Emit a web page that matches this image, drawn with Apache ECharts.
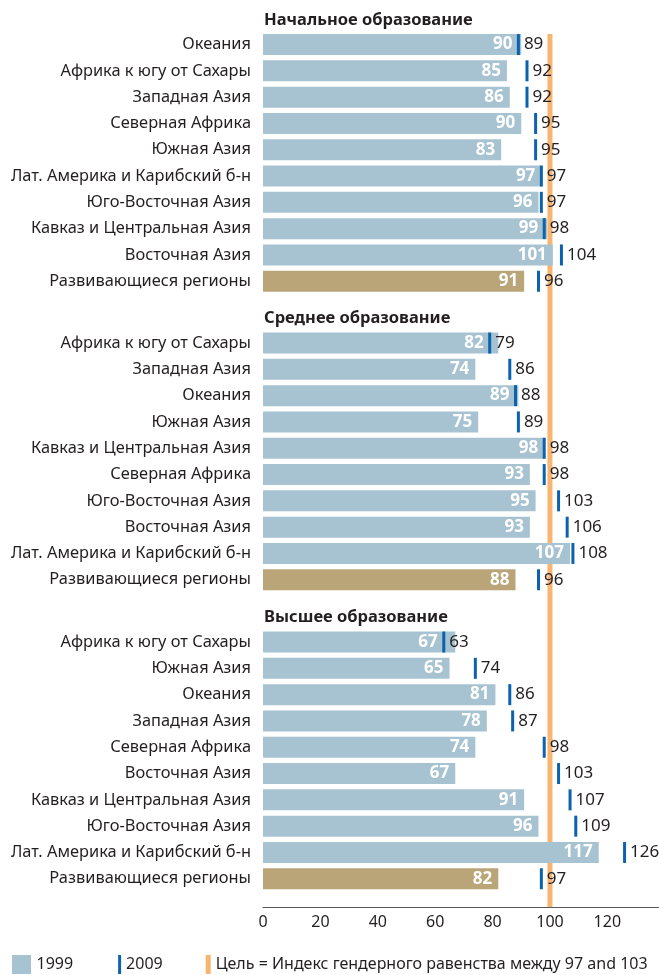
<!DOCTYPE html>
<html>
<head>
<meta charset="utf-8">
<script src="https://cdn.jsdelivr.net/npm/echarts@6/dist/echarts.min.js"></script>
<style>
    html, body { margin: 0; padding: 0; background: #fff; }
    #main { width: 659px; height: 975px; }
</style>
</head>
<body>
<div id="main"></div>
<script>
// данные: индекс гендерного равенства, 1999 и 2009
var headers = ['Начальное образование', 'Среднее образование', 'Высшее образование'];

var primaryCats = ['Океания', 'Африка к югу от Сахары', 'Западная Азия', 'Северная Африка', 'Южная Азия',
    'Лат. Америка и Карибский б-н', 'Юго-Восточная Азия', 'Кавказ и Центральная Азия', 'Восточная Азия', 'Развивающиеся регионы'];
var primary1999 = [90, 85, 86, 90, 83, 97, 96, 99, 101, 91];
var primary2009 = [89, 92, 92, 95, 95, 97, 97, 98, 104, 96];

var secondaryCats = ['Африка к югу от Сахары', 'Западная Азия', 'Океания', 'Южная Азия', 'Кавказ и Центральная Азия',
    'Северная Африка', 'Юго-Восточная Азия', 'Восточная Азия', 'Лат. Америка и Карибский б-н', 'Развивающиеся регионы'];
var secondary1999 = [82, 74, 89, 75, 98, 93, 95, 93, 107, 88];
var secondary2009 = [79, 86, 88, 89, 98, 98, 103, 106, 108, 96];

var tertiaryCats = ['Африка к югу от Сахары', 'Южная Азия', 'Океания', 'Западная Азия', 'Северная Африка',
    'Восточная Азия', 'Кавказ и Центральная Азия', 'Юго-Восточная Азия', 'Лат. Америка и Карибский б-н', 'Развивающиеся регионы'];
var tertiary1999 = [67, 65, 81, 78, 74, 67, 91, 96, 117, 82];
var tertiary2009 = [63, 74, 86, 87, 98, 103, 107, 109, 126, 97];

var goalValue = 100;
var goalName = 'Цель = Индекс гендерного равенства между 97 and 103';
var tickInterval = 20;
var xMax = 138;

var myChart = echarts.init(document.getElementById('main'));

var BAR = '#a7c3d1', DEV = '#b9a578', MARK = '#0b62ad', GOAL = '#f9b46f', INK = '#231f20';
var FONT = 'Noto Sans';

var groups = [
    {cats: primaryCats, v99: primary1999, v09: primary2009},
    {cats: secondaryCats, v99: secondary1999, v09: secondary2009},
    {cats: tertiaryCats, v99: tertiary1999, v09: tertiary2009}
];
var gridTops = [31.4, 329.9, 628.9];
var headerTops = [10, 308, 607];

var grids = [], xAxes = [], yAxes = [], series = [], titles = [];

groups.forEach(function (g, k) {
    var last = g.cats.length - 1;
    grids.push({left: 263, right: 0, top: gridTops[k], height: 263});
    xAxes.push({
        gridIndex: k, type: 'value', min: 0, max: xMax, interval: tickInterval,
        show: k === 2,
        offset: k === 2 ? 15 : 0,
        axisLine: {show: true, lineStyle: {color: '#58595b', width: 1}},
        axisTick: {show: false},
        splitLine: {show: false},
        axisLabel: {fontSize: 16, color: INK, fontFamily: FONT, margin: 8, showMaxLabel: false}
    });
    yAxes.push({
        gridIndex: k, type: 'category', data: g.cats, inverse: true,
        axisLine: {show: false}, axisTick: {show: false},
        axisLabel: {fontSize: 16.4, color: INK, fontFamily: FONT, margin: 12}
    });
    titles.push({
        text: headers[k], left: 264, top: headerTops[k], padding: 0,
        textStyle: {fontSize: 16.5, fontWeight: 'bold', color: INK, fontFamily: FONT, lineHeight: 20}
    });
    // бары 1999
    series.push({
        name: '1999', type: 'bar', xAxisIndex: k, yAxisIndex: k,
        barWidth: 21, barGap: '-100%', z: 2,
        itemStyle: {color: BAR},
        data: g.v99.map(function (v, i) {
            return i === last ? {value: v, itemStyle: {color: DEV}} : v;
        })
    });
    // подписи внутри баров (слева от отметки 2009, если она внутри)
    series.push({
        name: 'lbl', type: 'bar', xAxisIndex: k, yAxisIndex: k,
        barWidth: 21, barGap: '-100%', z: 3, silent: true,
        itemStyle: {color: 'rgba(0,0,0,0)'},
        label: {
            show: true, position: 'insideRight', distance: 6,
            color: '#fff', fontWeight: 'bold', fontSize: 17, fontFamily: FONT,
            formatter: function (p) { return g.v99[p.dataIndex]; }
        },
        data: g.v99.map(function (v, i) { return Math.min(v, g.v09[i]); })
    });
    // отметки 2009
    series.push({
        name: '2009', type: 'scatter', xAxisIndex: k, yAxisIndex: k,
        symbol: 'rect', symbolSize: [3, 21], z: 4,
        itemStyle: {color: MARK, opacity: 1},
        label: {show: true, position: 'right', distance: 4, fontSize: 17, color: INK, fontFamily: FONT,
            formatter: function (p) { return p.value[0]; }},
        data: g.v09.map(function (v, i) { return [v, g.cats[i]]; })
    });
});

// оранжевая линия цели
grids.push({left: 263, right: 0, top: 34, bottom: 68});
xAxes.push({gridIndex: 3, type: 'value', min: 0, max: xMax, show: false});
yAxes.push({gridIndex: 3, type: 'value', min: 0, max: 1, show: false});
series.push({
    name: goalName, type: 'line', xAxisIndex: 3, yAxisIndex: 3, z: 1,
    symbol: 'none', silent: true,
    lineStyle: {color: GOAL, width: 5},
    itemStyle: {color: GOAL},
    data: [[goalValue, 0], [goalValue, 1]]
});

option = {
    animation: false,
    textStyle: {fontFamily: FONT},
    title: titles,
    legend: {
        left: 12, top: 955, width: 900, padding: 0,
        itemWidth: 20, itemHeight: 19, itemGap: 28,
        selectedMode: false,
        itemStyle: {borderWidth: 0},
        textStyle: {fontSize: 16, color: INK, fontFamily: FONT},
        data: [
            {name: '1999', icon: 'path://M0,0h19v19h-19z'},
            {name: '2009', icon: 'path://M0,0M17,0h3v19h-3z'},
            {name: goalName, icon: 'path://M0,0M15,0h5v19h-5z'}
        ]
    },
    grid: grids,
    xAxis: xAxes,
    yAxis: yAxes,
    series: series
};

myChart.setOption(option);
</script>
</body>
</html>
